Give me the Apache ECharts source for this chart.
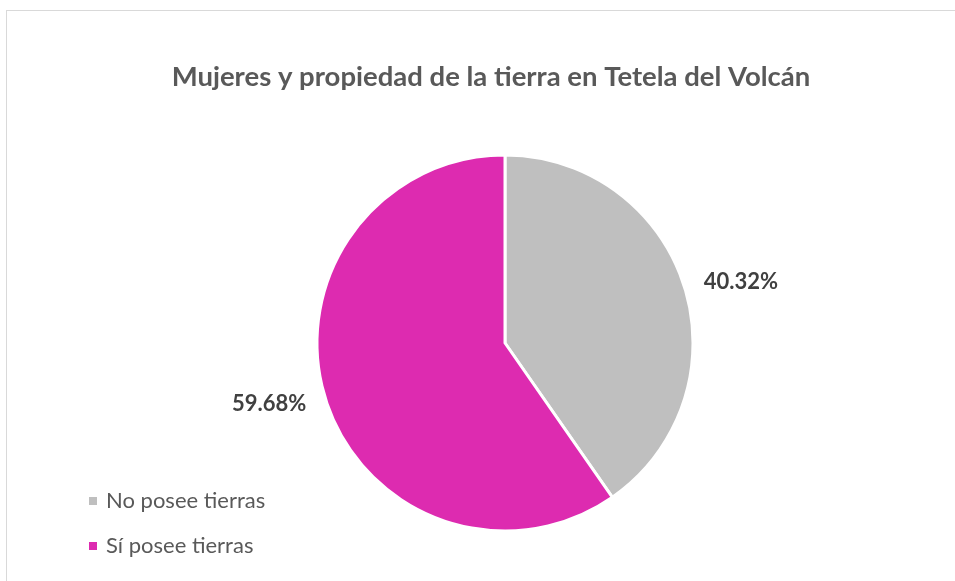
<!DOCTYPE html>
<html>
<head>
<meta charset="utf-8">
<script src="https://cdn.jsdelivr.net/npm/echarts@6/dist/echarts.min.js"></script>
<style>
  html, body { margin: 0; padding: 0; background: #fff; overflow: hidden; }
  #frame { position: absolute; left: 6px; top: 10px; width: 1000px; height: 700px;
           border-top: 1px solid #d9d9d9; border-left: 1px solid #d9d9d9; }
  #chart { position: absolute; left: 0; top: 0; width: 955px; height: 581px; }
</style>
</head>
<body>
<div id="frame"></div>
<div id="chart"></div>
<script>
const titleText = 'Mujeres y propiedad de la tierra en Tetela del Volcán';
const categories = ['No posee tierras', 'Sí posee tierras'];
const values = [40.32, 59.68];
const colors = ['#bfbfbf', '#dd2bb0'];

const chart = echarts.init(document.getElementById('chart'));
const font = 'Lato, "Open Sans", sans-serif';

chart.setOption({
  animation: false,
  title: {
    text: titleText,
    left: 486,
    top: 58,
    textAlign: 'center',
    textStyle: { fontFamily: font, fontSize: 27.5, fontWeight: 'bold', color: '#595959' }
  },
  legend: {
    orient: 'vertical',
    left: 82,
    top: 485,
    icon: 'rect',
    itemWidth: 10,
    itemHeight: 10,
    itemGap: 23,
    data: categories,
    textStyle: { fontFamily: font, fontSize: 22, color: '#595959', padding: [0, 0, 0, 3] }
  },
  series: [
    {
      type: 'pie',
      center: [505, 343],
      radius: 188,
      startAngle: 90,
      clockwise: true,
      itemStyle: { borderColor: '#fff', borderWidth: 3 },
      label: {
        show: true,
        position: 'outside',
        formatter: (p) => p.value.toFixed(2) + '%',
        fontFamily: font,
        fontSize: 22,
        fontWeight: 'bold',
        color: '#404040'
      },
      labelLine: { show: false, length: 15, length2: 0 },
      emphasis: { disabled: true },
      data: categories.map((name, i) => ({
        name: name,
        value: values[i],
        itemStyle: { color: colors[i] }
      }))
    }
  ]
});
</script>
</body>
</html>
